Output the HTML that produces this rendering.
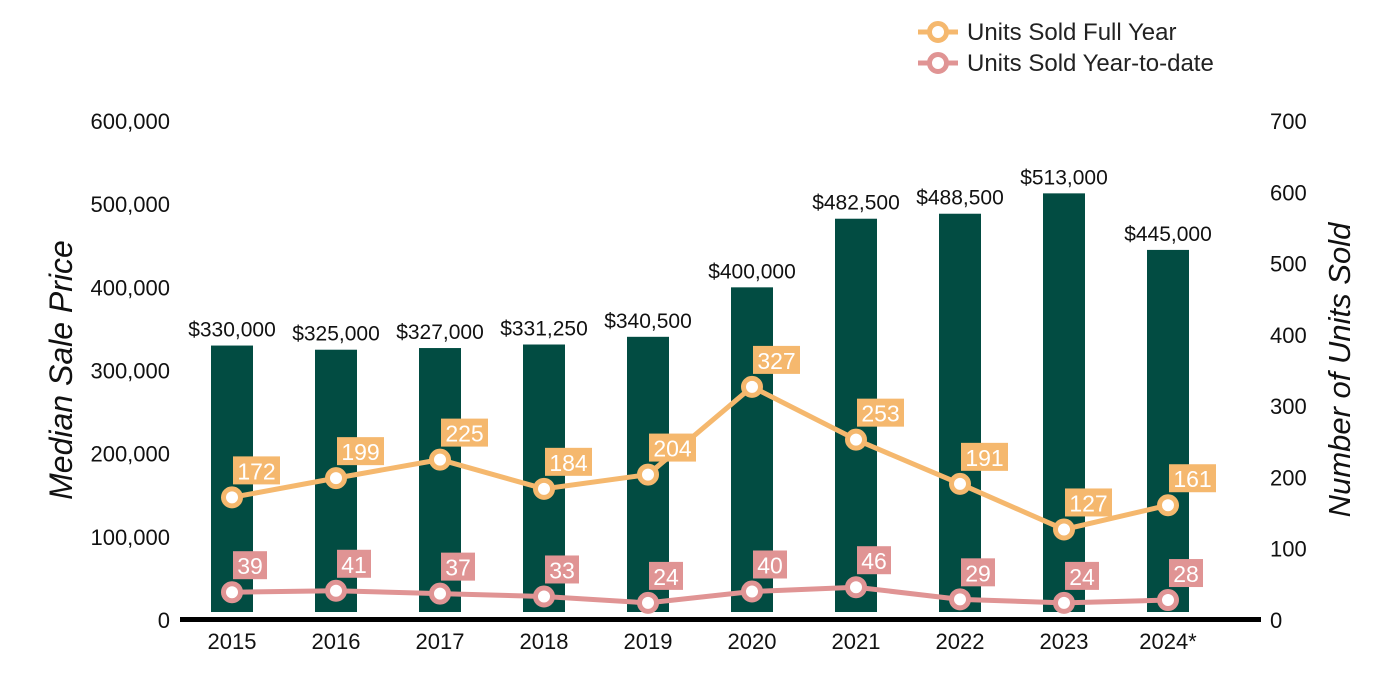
<!DOCTYPE html>
<html><head><meta charset="utf-8"><style>
body{margin:0;background:#fff;}
svg{display:block;font-family:"Liberation Sans",Arial,sans-serif;}
</style></head><body>
<svg id="chart" width="1400" height="700">
<g>
 <g>
  <line x1="918" y1="32" x2="958" y2="32" stroke="#f5b86e" stroke-width="5"/>
  <circle cx="938" cy="32" r="8.5" fill="#fff" stroke="#f5b86e" stroke-width="5"/>
  <text x="967" y="40" font-size="24" fill="#222">Units Sold Full Year</text>
 </g>
 <g>
  <line x1="918" y1="63" x2="958" y2="63" stroke="#e09494" stroke-width="5"/>
  <circle cx="938" cy="63" r="8.5" fill="#fff" stroke="#e09494" stroke-width="5"/>
  <text x="967" y="71" font-size="24" fill="#222">Units Sold Year-to-date</text>
 </g>
</g>
<text transform="translate(72,370) rotate(-90)" text-anchor="middle" font-size="32" font-style="italic" fill="#111">Median Sale Price</text>
<text transform="translate(1350,370) rotate(-90)" text-anchor="middle" font-size="31" font-style="italic" fill="#111">Number of Units Sold</text>
<g id="g"></g>
</svg>
<script>
const categories=["2015","2016","2017","2018","2019","2020","2021","2022","2023","2024*"];
const prices=[330000,325000,327000,331250,340500,400000,482500,488500,513000,445000];
const priceLabels=["$330,000","$325,000","$327,000","$331,250","$340,500","$400,000","$482,500","$488,500","$513,000","$445,000"];
const fullYear=[172,199,225,184,204,327,253,191,127,161];
const ytd=[39,41,37,33,24,40,46,29,24,28];
const leftTicks=[0,100000,200000,300000,400000,500000,600000];
const rightTicks=[0,100,200,300,400,500,600,700];

const NS="http://www.w3.org/2000/svg";
const gEl=document.getElementById('g');
const yBase=620, yTop=121;
const yL=v=>yBase-(v/600000)*(yBase-yTop);
const yR=v=>yBase-(v/700)*(yBase-yTop);
const xC=i=>232+i*104;
function mk(t,a,txt){const e=document.createElementNS(NS,t);for(const k in a)e.setAttribute(k,a[k]);if(txt!==undefined)e.textContent=txt;gEl.appendChild(e);return e;}
leftTicks.forEach(v=>{const e=mk('text',{x:170,y:yL(v)+8,'text-anchor':'end','font-size':22,fill:'#111'},v.toLocaleString('en-US'));

});
rightTicks.forEach(v=>{const e=mk('text',{x:1270,y:yR(v)+8,'font-size':22,fill:'#111'},String(v));

});
prices.forEach((v,i)=>{const b=mk('rect',{x:xC(i)-21,y:yL(v),width:42,height:612-yL(v),fill:'#024c42'});


const t=mk('text',{x:xC(i),y:yL(v)-9,'text-anchor':'middle','font-size':21,fill:'#111'},priceLabels[i]);

});
const ax=mk('rect',{x:180,y:617,width:1081,height:5,fill:'#000'});


categories.forEach((c,i)=>{const t=mk('text',{x:xC(i),y:649,'text-anchor':'middle','font-size':22,fill:'#111'},c);

});
function series(vals,color,name){
 const p=mk('polyline',{points:vals.map((v,i)=>xC(i)+','+yR(v)).join(' '),fill:'none',stroke:color,'stroke-width':5});
 
 
 vals.forEach((v,i)=>{const c=mk('circle',{cx:xC(i),cy:yR(v),r:8.5,fill:'#fff',stroke:color,'stroke-width':5});
 
 
 const s=String(v), w=s.length*13+8;
 const r=mk('rect',{x:xC(i)+1,y:yR(v)-41,width:w,height:28,fill:color});
 
 
 const t=mk('text',{x:xC(i)+1+w/2,y:yR(v)-18,'text-anchor':'middle','font-size':23,fill:'#fff'},s);
 
 });
}
series(fullYear,'#f5b86e','full-year');
series(ytd,'#e09494','ytd');
</script>
</body></html>
